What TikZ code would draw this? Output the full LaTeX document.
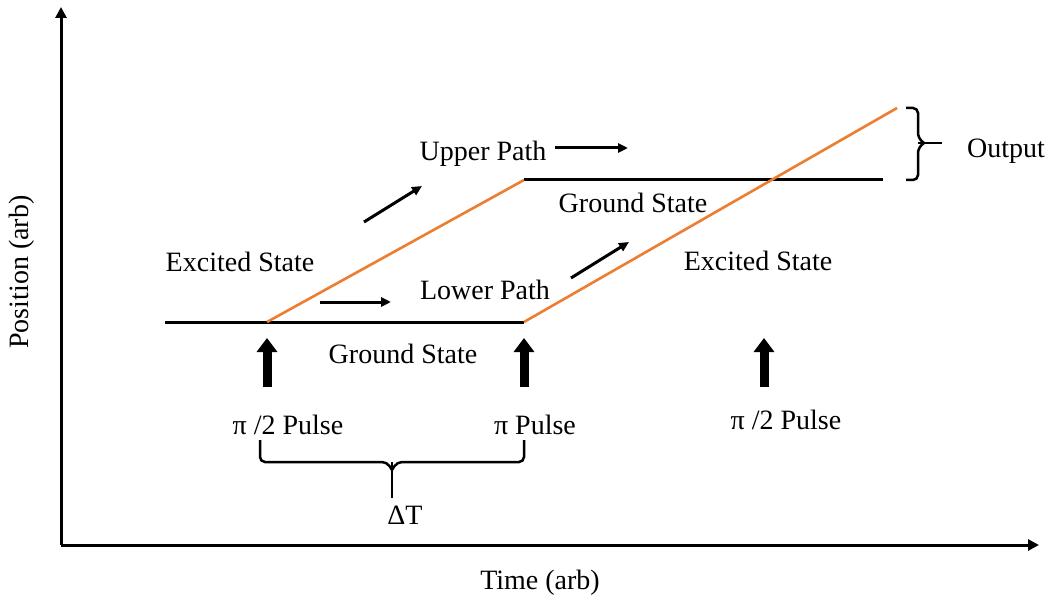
\documentclass[tikz,border=0pt]{standalone}
\usepackage{fontspec}
\setmainfont{Liberation Serif}
\usetikzlibrary{arrows.meta}
\begin{document}
\begin{tikzpicture}[x=1pt,y=-1pt,
  lbl/.style={font=\fontsize{28}{32}\selectfont, inner sep=0pt, anchor=base},
  axis/.style={line width=3pt,-{Triangle[length=11pt,width=11pt]}},
  state/.style={line width=3pt},
  small/.style={line width=3pt,-{Triangle[length=10pt,width=9pt]}},
  pulse/.style={line width=9pt,-{Triangle[length=14pt,width=20pt]}},
  brace/.style={line width=2.5pt, rounded corners=5pt}
]
\definecolor{beamc}{RGB}{237,125,49}
\tikzset{beam/.style={line width=2.6pt, color=beamc}}
\useasboundingbox[fill=white] (0,0) rectangle (1050,596);
% axes
\coordinate (O) at (61,545);
\coordinate (ytop) at (61,7);
\coordinate (xend) at (1039,545);
\draw[axis] (O) -- (ytop);
\draw[axis] (O) -- (xend);
% states
\coordinate (g0) at (165,322);
\coordinate (s1) at (267,322);
\coordinate (s2) at (524,322);
\coordinate (u1) at (524,180);
\coordinate (u2) at (883,180);
\coordinate (e2) at (897,108);
\draw[state] (g0) -- (s2);
\draw[state] (u1) -- (u2);
\draw[beam] (s1) -- (u1);
\draw[beam] (s2) -- (e2);
% labels
\node[lbl] (exc1) at (240,272) {Excited State};
\node[lbl] (up) at (483,161) {Upper Path};
\node[lbl] (gs2) at (633,213) {Ground State};
\node[lbl] (lp) at (485,299) {Lower Path};
\node[lbl] (exc2) at (758,271) {Excited State};
\node[lbl] (gs1) at (403,363) {Ground State};
\node[lbl] (p1) at (288,434) {π /2 Pulse};
\node[lbl] (p2) at (535,434) {π Pulse};
\node[lbl] (p3) at (786,429) {π /2 Pulse};
\node[lbl] (dt) at (405,524) {ΔT};
\node[lbl] (out) at (1006,158) {Output};
\node[lbl, rotate=90, anchor=center] (ylab) at (22,272) {Position (arb)};
\node[lbl] (xlab) at (540,589) {Time (arb)};
% small arrows
\coordinate (a1s) at (555,148); \coordinate (a1e) at (628,148);
\coordinate (a2s) at (364,222); \coordinate (a2e) at (422,186);
\coordinate (a3s) at (320,302); \coordinate (a3e) at (391,302);
\coordinate (a4s) at (571,278); \coordinate (a4e) at (629,242);
\draw[small] (a1s) -- (a1e);
\draw[small] (a2s) -- (a2e);
\draw[small] (a3s) -- (a3e);
\draw[small] (a4s) -- (a4e);
% pulse arrows
\coordinate (b1s) at (267,387); \coordinate (b1e) at (267,338);
\coordinate (b2s) at (524,387); \coordinate (b2e) at (524,338);
\coordinate (b3s) at (764,387); \coordinate (b3e) at (764,338);
\draw[pulse] (b1s) -- (b1e);
\draw[pulse] (b2s) -- (b2e);
\draw[pulse] (b3s) -- (b3e);
% brace dT
\coordinate (bl) at (260,440); \coordinate (br) at (524,440);
\coordinate (bm) at (392,498);
\draw[brace] (bl) -- (260,462) -- (387,462) -- (392,470);
\draw[brace] (br) -- (524,462) -- (397,462) -- (392,470);
\draw[line width=2.5pt] (392,462) -- (bm);
% output brace
\coordinate (ot) at (906,108); \coordinate (ob) at (906,180);
\coordinate (om) at (942,143);
\draw[brace] (ot) -- (918,108) -- (918,138) -- (924,143);
\draw[brace] (ob) -- (918,180) -- (918,148) -- (924,143);
\draw[line width=2.5pt] (918,143) -- (om);
\end{tikzpicture}
\end{document}
